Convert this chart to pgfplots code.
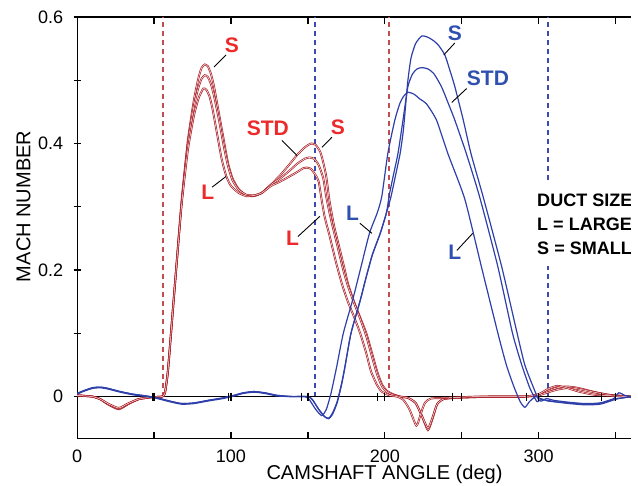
\documentclass[border=0pt]{standalone}
\usepackage{pgfplots}
\pgfplotsset{compat=1.18}
\usepackage{fontspec}
\setmainfont{Liberation Sans}
\usetikzlibrary{calc}

\definecolor{redcurve}{HTML}{A81C24}
\definecolor{redlab}{HTML}{EC2A2A}
\definecolor{bluecurve}{HTML}{2E3FAA}
\definecolor{bluelab}{HTML}{3050B0}
\definecolor{reddash}{HTML}{C04E4E}
\definecolor{bluedash}{HTML}{3A4AB0}

\tikzset{
  lab/.style={font=\fontsize{10.5}{12}\selectfont\bfseries, inner sep=0pt},
  lead/.style={black, line width=0.45pt},
  vline/.style={line width=0.8pt, dash pattern=on 2.5pt off 2pt},
  redc/.style={redcurve, smooth, tension=0.35, line width=0.35pt, double=red!6!white, double distance=0.25pt},
  bluec/.style={bluecurve, smooth, tension=0.35, line width=0.6pt},
}

\begin{document}
\begin{tikzpicture}
\begin{axis}[
  name=ax,
  scale only axis, width=276.5pt, height=210.5pt,
  xmin=0, xmax=360, ymin=-0.0665, ymax=0.6,
  axis x line=box, axis y line=left, axis line style={-, line width=0.6pt},
  xtick={0,100,200,300}, minor xtick={50,150,250,350},
  ytick={0,0.2,0.4,0.6}, minor ytick={0.1,0.3,0.5},
  tick align=inside, ytick align=center,
  major tick length=3.5pt, minor tick length=3.5pt,
  tick style={black, line width=0.6pt},
  /pgf/number format/assume math mode=true,
  ticklabel style={font=\fontsize{9}{10}\selectfont},
  xticklabel style={inner sep=0pt, yshift=-5.5pt},
  yticklabel style={inner sep=0pt, xshift=-5pt},
  xlabel={CAMSHAFT ANGLE (deg)}, ylabel={MACH NUMBER},
  label style={font=\fontsize{9.4}{11}\selectfont},
  every axis x label/.style={at={(axis description cs:0.555,-0.062)}, anchor=north, inner sep=0pt},
  every axis y label/.style={at={(axis description cs:-0.0967,0.551)}, rotate=90, anchor=center, inner sep=0pt},
]
% valve event markers
\addplot[reddash, vline] coordinates {(55.9,0) (55.9,0.6)};
\addplot[reddash, vline] coordinates {(202.7,0) (202.7,0.6)};
\addplot[bluedash, vline] coordinates {(154.7,0) (154.7,0.6)};
\addplot[bluedash, vline] coordinates {(306,0) (306,0.6)};

% zero line with its ticks
\addplot[black, line width=0.65pt] coordinates {(0,0) (360,0)};
\addplot[black, only marks, mark=|, mark size=2pt, mark options={line width=0.6pt}]
  coordinates {(50,0)(100,0)(150,0)(200,0)(250,0)(300,0)(350,0)
               (49,0)(98.5,0)(146,0)(195,0)(244,0)(292,0)(341,0)};

% red: S, STD, L
\addplot[redc] coordinates {
(0,0.002)(5,0.001)(10,0)(15,-0.004)(20,-0.012)(27,-0.02)(33,-0.012)(40,-0.004)(48,-0.001)(55,0)
(57,0.005)(59,0.04)(62,0.13)(65,0.22)(68,0.31)(72,0.405)(76,0.47)(79,0.505)(81,0.52)(83,0.525)
(85,0.522)(87,0.51)(89,0.49)(92,0.45)(95,0.41)(98,0.37)(101,0.345)(105,0.328)(110,0.318)(115,0.317)
(120,0.322)(126,0.335)(132,0.35)(138,0.367)(143,0.382)(148,0.394)(152,0.4)(155,0.398)(158,0.387)
(160,0.37)(162,0.347)(164,0.31)(167,0.27)(170,0.24)(174,0.2)(176,0.179)(180,0.15)(184,0.125)
(188,0.1)(192,0.066)(195,0.04)(198,0.02)(201,0.01)(205,0.004)(210,0)(215,-0.002)(220,-0.01)
(224,-0.03)(228,-0.053)(231,-0.035)(234,-0.012)(238,-0.004)(245,-0.002)(255,-0.001)(270,0)
(290,0)(300,0.002)(305,0.008)(312,0.014)(318,0.016)(325,0.014)(335,0.008)(345,0.003)(355,0.001)(360,0)};
\addplot[redc] coordinates {
(0,0.002)(10,0)(15,-0.004)(20,-0.012)(27,-0.019)(33,-0.012)(40,-0.004)(48,-0.001)(55,0)
(57,0.005)(59,0.04)(62,0.13)(65,0.22)(68,0.31)(72,0.4)(76,0.46)(79,0.49)(81,0.503)(83,0.508)
(85,0.505)(87,0.494)(89,0.475)(92,0.44)(95,0.4)(98,0.365)(101,0.342)(105,0.327)(110,0.319)(115,0.318)
(120,0.322)(126,0.335)(132,0.345)(138,0.357)(143,0.368)(148,0.376)(151,0.378)(154,0.376)(157,0.366)
(160,0.345)(162,0.315)(165,0.28)(169,0.24)(173,0.2)(176,0.175)(180,0.148)(184,0.123)(188,0.095)
(192,0.06)(195,0.035)(198,0.017)(201,0.008)(205,0.003)(210,0)(215,-0.002)(220,-0.01)(224,-0.03)
(228,-0.05)(231,-0.033)(234,-0.012)(238,-0.004)(245,-0.002)(270,0)(290,0)(300,0.002)(305,0.006)
(312,0.011)(320,0.014)(328,0.011)(338,0.006)(348,0.002)(360,0)};
\addplot[redc] coordinates {
(0,0.002)(10,0)(15,-0.004)(20,-0.011)(27,-0.018)(33,-0.011)(40,-0.004)(48,-0.001)(55,0)
(57,0.005)(59,0.04)(62,0.13)(65,0.22)(68,0.305)(72,0.39)(76,0.445)(79,0.472)(82,0.487)(84,0.485)
(86,0.475)(88,0.455)(91,0.415)(94,0.375)(97,0.348)(100,0.333)(105,0.322)(110,0.317)(115,0.318)
(120,0.322)(126,0.333)(132,0.34)(138,0.348)(143,0.355)(147,0.361)(149,0.362)(152,0.36)(155,0.35)
(157,0.34)(159,0.31)(161,0.283)(164,0.255)(168,0.215)(172,0.179)(176,0.15)(180,0.126)(184,0.1)
(188,0.068)(191,0.04)(195,0.018)(198,0.008)(203,0.002)(208,0)(212,-0.005)(216,-0.02)(220.5,-0.046)
(223,-0.03)(226,-0.01)(230,-0.003)(240,-0.002)(260,0)(290,0)(300,0.004)(306,0.012)(312,0.017)
(318,0.014)(326,0.008)(336,0.003)(350,0.001)(360,0)};

% blue: S, STD, L
\addplot[bluec] coordinates {
(0,0.005)(5,0.01)(10,0.014)(15,0.015)(20,0.013)(28,0.008)(36,0.004)(45,0.001)(52,-0.002)(60,-0.007)
(68,-0.011)(76,-0.01)(85,-0.006)(95,-0.002)(102,0.002)(108,0.006)(115,0.008)(122,0.006)(130,0.002)
(140,0)(150,0)(153,-0.005)(157,-0.02)(161,-0.032)(163.6,-0.035)(166,-0.028)(169,-0.01)(172,0.02)
(174,0.046)(178,0.1)(184,0.152)(188,0.19)(192,0.225)(197,0.258)(201,0.29)(204,0.316)(207,0.35)
(210,0.385)(212,0.42)(213.5,0.46)(215,0.5)(217,0.535)(220,0.558)(224,0.57)(228,0.568)(232,0.562)
(235,0.555)(239,0.54)(242,0.518)(245.5,0.49)(251,0.437)(256,0.384)(264,0.315)(276,0.205)(286,0.1)
(291,0.05)(297,0.012)(300,-0.005)(302,-0.007)(305,-0.003)(310,-0.006)(320,-0.009)(330,-0.011)
(340,-0.01)(348,-0.004)(355,-0.002)(360,0)};
\addplot[bluec] coordinates {
(0,0.005)(5,0.01)(10,0.014)(15,0.015)(20,0.013)(28,0.008)(36,0.004)(45,0.001)(52,-0.002)(60,-0.007)
(68,-0.011)(76,-0.01)(85,-0.006)(95,-0.002)(102,0.002)(108,0.006)(115,0.008)(122,0.006)(130,0.002)
(140,0)(150,0)(153,-0.005)(157,-0.02)(161,-0.032)(163.6,-0.034)(166,-0.026)(169,-0.008)(172,0.022)
(174,0.046)(178,0.1)(184,0.152)(188,0.19)(192,0.225)(197,0.258)(201,0.29)(203,0.32)(206,0.355)
(208.6,0.385)(211.8,0.437)(215,0.49)(218,0.51)(221,0.518)(224,0.52)(228,0.518)(232,0.51)(236.8,0.49)
(241,0.465)(245.5,0.437)(253,0.384)(261.7,0.315)(273.5,0.205)(283,0.1)(289,0.05)(294,0.015)(297,0)
(299,-0.008)(302,-0.004)(306,-0.007)(315,-0.009)(325,-0.011)(335,-0.012)(345,-0.008)(352,-0.003)(360,0)};
\addplot[bluec] coordinates {
(0,0.004)(5,0.009)(10,0.013)(15,0.014)(20,0.012)(28,0.007)(36,0.003)(45,0)(52,-0.003)(60,-0.008)
(68,-0.012)(76,-0.011)(85,-0.007)(95,-0.003)(102,0.001)(108,0.005)(115,0.007)(122,0.005)(130,0.001)
(140,0)(148,0)(151,-0.005)(155,-0.02)(159,-0.03)(162,-0.02)(165,0.005)(168.6,0.046)(173,0.1)
(179,0.152)(184,0.2)(190,0.258)(195,0.29)(198,0.316)(202,0.385)(206.5,0.437)(209.7,0.463)(212,0.474)
(215,0.481)(219,0.478)(223,0.47)(227,0.463)(233.6,0.437)(241,0.384)(252,0.312)(262.8,0.205)
(273.5,0.1)(279,0.05)(284,0.015)(288,-0.008)(291,-0.017)(294,-0.008)(298,0)(302,-0.004)(310,-0.008)
(320,-0.011)(330,-0.013)(340,-0.012)(348,-0.005)(352,0.006)(356,0.002)(360,0)};

% curve labels and leaders
\node[lab, redlab] at (axis cs:100.6,0.555) {S};
\draw[lead] (axis cs:96.8,0.540) -- (axis cs:89,0.521);
\node[lab, redlab] at (axis cs:85,0.323) {L};
\draw[lead] (axis cs:87.7,0.331) -- (axis cs:96.8,0.348);
\node[lab, redlab] at (axis cs:124,0.424) {STD};
\draw[lead] (axis cs:133.1,0.405) -- (axis cs:142.9,0.381);
\node[lab, redlab] at (axis cs:169.5,0.426) {S};
\draw[lead] (axis cs:165.6,0.41) -- (axis cs:159.1,0.394);
\node[lab, redlab] at (axis cs:140,0.25) {L};
\draw[lead] (axis cs:143.5,0.253) -- (axis cs:157.8,0.285);

\node[lab, bluelab] at (axis cs:245.5,0.574) {S};
\draw[lead] (axis cs:245.5,0.559) -- (axis cs:238.3,0.54);
\node[lab, bluelab] at (axis cs:267,0.503) {STD};
\draw[lead] (axis cs:253.2,0.487) -- (axis cs:243.5,0.465);
\node[lab, bluelab] at (axis cs:179,0.29) {L};
\draw[lead] (axis cs:183.8,0.274) -- (axis cs:191.6,0.258);
\node[lab, bluelab] at (axis cs:245.5,0.228) {L};
\draw[lead] (axis cs:246.8,0.231) -- (axis cs:257.1,0.258);

\node[anchor=north west, fill=white, align=left, inner xsep=1pt, inner ysep=5.25pt,
  font=\fontsize{9}{12}\selectfont\bfseries] at (axis cs:297.5,0.337)
  {DUCT SIZE\\L = LARGE\\S = SMALL};
\end{axis}
\pgfresetboundingbox
\path[use as bounding box] ($(ax.south west)+(-38.5pt,-23.5pt)$) rectangle ($(ax.north east)+(3.5pt,8.5pt)$);
\end{tikzpicture}
\end{document}
